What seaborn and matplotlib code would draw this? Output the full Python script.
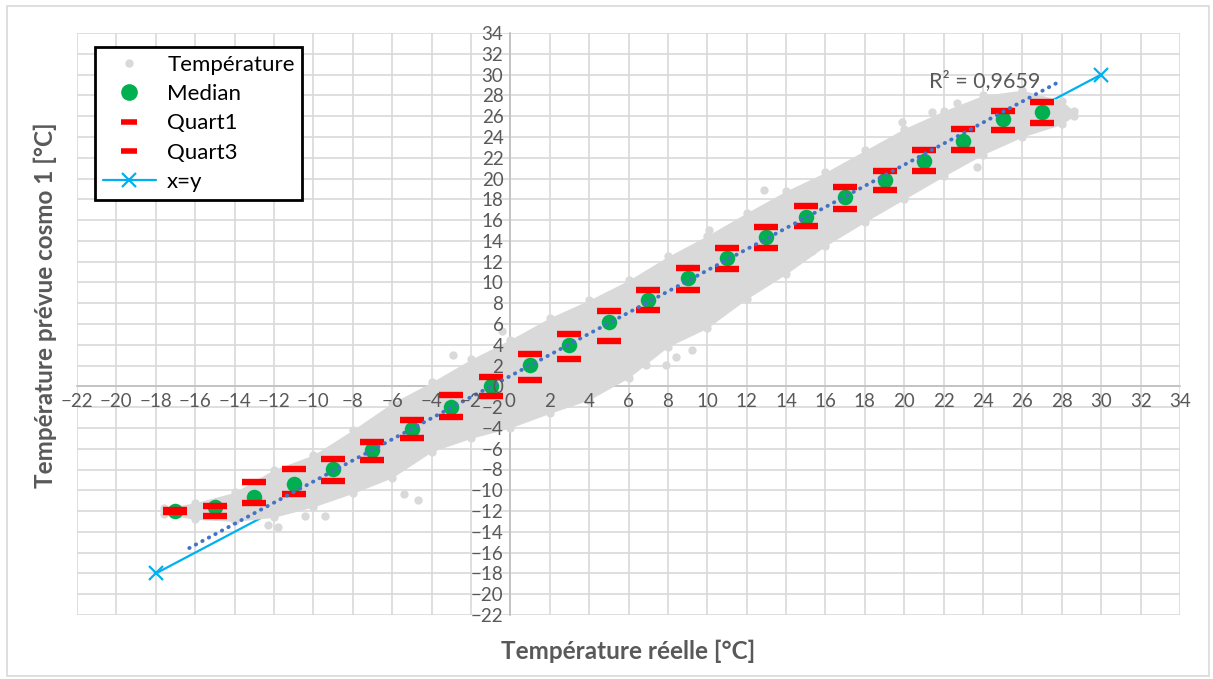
import matplotlib
matplotlib.use("Agg")
import matplotlib.pyplot as plt
from matplotlib.lines import Line2D
from matplotlib.patches import Rectangle
import numpy as np
import pandas as pd
import seaborn as sns

# Bin centres of the observed temperature and the statistics of the forecast in each bin
bin_x = [-17, -15, -13, -11, -9, -7, -5, -3, -1, 1, 3, 5, 7, 9, 11, 13, 15, 17, 19, 21, 23, 25, 27]
median = [-12.0, -11.6, -10.6, -9.4, -7.95, -6.15, -4.15, -1.95, 0.0, 2.05, 4.0, 6.2, 8.3,
          10.4, 12.35, 14.35, 16.3, 18.2, 19.9, 21.7, 23.6, 25.7, 26.4]
quart1 = [-12.1, -12.5, -11.2, -10.4, -9.1, -7.1, -5.0, -2.95, -0.9, 0.65, 2.65, 4.4, 7.3,
          9.3, 11.3, 13.3, 15.4, 17.1, 18.9, 20.75, 22.75, 24.7, 25.3]
quart3 = [-11.9, -11.5, -9.25, -7.95, -6.95, -5.35, -3.2, -0.85, 0.9, 3.1, 5.05, 7.25, 9.3,
          11.35, 13.35, 15.3, 17.35, 19.2, 20.75, 22.7, 24.75, 26.5, 27.4]

# Envelope of the dense cloud of individual observations
cloud_x = [-17.6, -16, -14, -12, -10, -8, -6, -4, -2, 0, 2, 4, 6, 8, 10, 12, 14, 16, 18, 20,
           22, 24, 26, 28, 28.6]
cloud_hi = [-11.7, -11.2, -10.2, -8.0, -6.6, -4.2, -1.6, 0.4, 2.6, 4.5, 6.6, 8.3, 10.2, 12.5,
            14.5, 16.7, 18.8, 20.6, 22.7, 24.8, 26.5, 28.0, 28.5, 27.5, 26.5]
cloud_lo = [-12.3, -12.8, -13.0, -12.6, -11.6, -10.3, -8.8, -6.3, -5.0, -4.0, -2.6, -1.3, 0.8,
            3.8, 5.6, 8.4, 10.8, 13.5, 15.8, 18.0, 20.2, 22.3, 24.0, 25.2, 26.0]

# Isolated observations outside the dense cloud
out_x = [-10.4, -9.4, -4.7, -5.4, -11.8, -12.3, -2.9, -0.4, 8.4, 7.9, 6.9, 12.9, 15.3, 11.4,
         9.2, 10.1, 22.7, 28.1, 23.7, 19.9, 21.4]
out_y = [-12.5, -12.5, -10.9, -10.4, -13.5, -13.3, 3.0, 5.3, 2.8, 2.1, 2.1, 18.9, 13.0, 8.6,
         3.5, 15.0, 27.3, 26.3, 21.1, 25.4, 26.4]

# Identity line end points and linear trend of the observations
xy_line = [-18, 30]
trend_x = [-16.3, 27.8]
trend_slope = 1.016
trend_intercept = 1.0
r2_label = "R² = 0,9659"

ticks = list(range(-22, 35, 2))

GREY_TXT = "#595959"
GRID = "#D9D9D9"
CLOUD = "#D9D9D9"

sns.set_theme(style="white")
plt.rcParams["font.family"] = ["Lato", "DejaVu Sans"]

W, H = 1213, 679
fig = plt.figure(figsize=(W / 100, H / 100), dpi=100)
fig.patch.set_facecolor("white")
fig.patches.append(Rectangle((7 / W, 3 / H), (W - 11) / W, (H - 9) / H, transform=fig.transFigure,
                             fill=False, edgecolor="#D9D9D9", lw=1.2))

ax = fig.add_axes([77 / W, 64 / H, 1103 / W, 582 / H])
ax.set_xlim(-22, 34)
ax.set_ylim(-22, 34)
ax.set_facecolor("white")

# grid drawn manually so tick labels can sit above the data
ax.vlines(ticks, -22, 34, colors=GRID, lw=1.2, zorder=0.5)
ax.hlines(ticks, -22, 34, colors=GRID, lw=1.2, zorder=0.5)

for s in ["top", "right"]:
    ax.spines[s].set_visible(False)
for s in ["left", "bottom"]:
    ax.spines[s].set_position(("data", 0))
    ax.spines[s].set_color("#BFBFBF")
    ax.spines[s].set_linewidth(1.2)
    ax.spines[s].set_zorder(1)

ax.set_xticks(ticks)
ax.set_yticks(ticks)
ax.tick_params(length=0, labelsize=13.5, labelcolor=GREY_TXT, pad=5)
ax.xaxis.set_zorder(8)
ax.yaxis.set_zorder(8)

# identity line (beneath the cloud)
ax.plot(xy_line, xy_line, color="#00B0F0", lw=1.6, marker="x", ms=10, mew=1.6, zorder=2)

# cloud of observations
ax.fill_between(cloud_x, cloud_lo, cloud_hi, color=CLOUD, lw=0, zorder=3)
edge = pd.DataFrame({"x": cloud_x + cloud_x + out_x, "y": cloud_hi + cloud_lo + out_y})
sns.scatterplot(data=edge, x="x", y="y", ax=ax, color=CLOUD, s=36, linewidth=0, zorder=3,
                legend=False)

# per-bin statistics
stats = pd.DataFrame({"x": bin_x, "median": median, "q1": quart1, "q3": quart3})
sns.scatterplot(data=stats, x="x", y="median", ax=ax, color="#00B050", s=125, linewidth=0,
                zorder=4, legend=False)
for col in ["q1", "q3"]:
    ax.plot(stats["x"], stats[col], ls="none", marker="_", ms=17, mew=4.6, color="#FF0000",
            zorder=5)

# linear trend
tx = np.array(trend_x)
ax.plot(tx, trend_slope * tx + trend_intercept, color="#4472C4", lw=2.8,
        ls=(0, (0.1, 1.8)), dash_capstyle="round", zorder=6)
ax.text(26.9, 29.4, r2_label, fontsize=15.5, color=GREY_TXT, ha="right", va="center", zorder=7)

ax.set_xlabel("")
ax.set_ylabel("")

fig.text(628.5 / W, 1 - 651 / H, "Température réelle [°C]", fontsize=17.5, fontweight="bold",
         color=GREY_TXT, ha="center", va="center")
fig.text(45 / W, 1 - 305 / H, "Température prévue cosmo 1 [°C]", fontsize=17.5,
         fontweight="bold", color=GREY_TXT, ha="center", va="center", rotation=90)

handles = [
    Line2D([], [], ls="none", marker="o", ms=5, color=CLOUD),
    Line2D([], [], ls="none", marker="o", ms=11, color="#00B050"),
    Line2D([], [], ls="none", marker="_", ms=11, mew=4, color="#FF0000"),
    Line2D([], [], ls="none", marker="_", ms=11, mew=4, color="#FF0000"),
    Line2D([], [], color="#00B0F0", lw=1.6, marker="x", ms=10, mew=1.6),
]
labels = ["Température", "Median", "Quart1", "Quart3", "x=y"]
leg = ax.legend(handles, labels, loc="upper left", bbox_to_anchor=(95 / W, 1 - 47 / H),
                bbox_transform=fig.transFigure, fontsize=16, frameon=True, fancybox=False,
                framealpha=1, edgecolor="black", borderpad=0.35, labelspacing=0.42,
                handlelength=2.4, handletextpad=0.5, borderaxespad=0)
leg.get_frame().set_linewidth(2)
leg.set_zorder(10)
for t in leg.get_texts():
    t.set_color("#000000")

fig.savefig("out.png", dpi=100, facecolor="white")
